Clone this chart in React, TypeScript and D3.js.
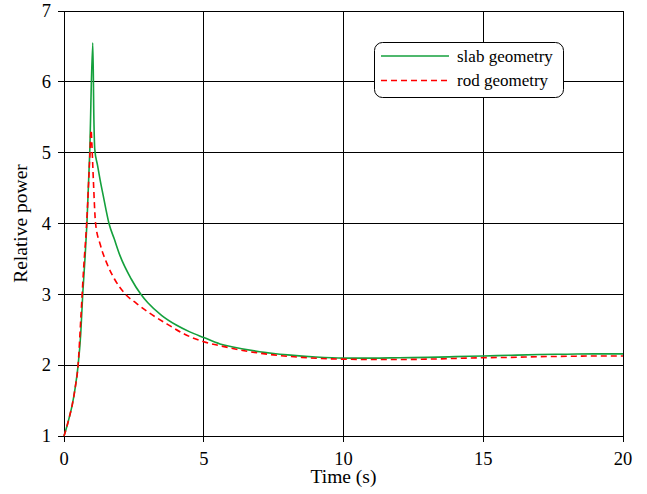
import React, { useEffect, useRef } from 'react';
import * as d3 from 'd3';

// Slab geometry (solid green)
const slabTime = [0, 0.1, 0.2, 0.3, 0.4, 0.5, 0.6, 0.67, 0.75, 0.82, 0.92, 1.03, 1.07, 1.1, 1.2, 1.29, 1.4, 1.5, 1.61, 1.8, 2.0, 2.4, 2.75, 3.0, 3.5, 4.0, 4.5, 5.0, 5.58, 6, 7, 7.5, 8, 9, 10, 11, 12, 13, 14, 15, 16, 17, 18, 19, 20];
const slabPower = [1, 1.13, 1.28, 1.45, 1.68, 1.98, 2.45, 3.0, 3.5, 4.0, 5.0, 6.55, 5.46, 5.05, 4.82, 4.62, 4.4, 4.2, 4.0, 3.78, 3.55, 3.22, 3.0, 2.88, 2.7, 2.57, 2.47, 2.39, 2.3, 2.26, 2.19, 2.165, 2.145, 2.115, 2.1, 2.1, 2.105, 2.11, 2.12, 2.13, 2.14, 2.15, 2.155, 2.16, 2.16];

// Rod geometry (dashed red)
const rodTime = [0, 0.1, 0.2, 0.3, 0.4, 0.5, 0.6, 0.7, 0.81, 0.93, 0.97, 1.0, 1.05, 1.13, 1.3, 1.53, 1.8, 2.2, 2.6, 3.08, 3.69, 4.3, 5.0, 5.58, 6.5, 7.5, 8.5, 9.5, 10, 11, 12, 13, 14, 15, 16, 17, 18, 19, 20];
const rodPower = [1, 1.13, 1.28, 1.45, 1.68, 1.98, 2.65, 3.35, 4.0, 5.0, 5.32, 5.1, 4.62, 4.0, 3.7, 3.44, 3.22, 3.0, 2.87, 2.73, 2.58, 2.44, 2.33, 2.275, 2.2, 2.145, 2.11, 2.09, 2.085, 2.08, 2.08, 2.085, 2.095, 2.105, 2.11, 2.12, 2.125, 2.13, 2.13];

const xTicks = [0, 5, 10, 15, 20];
const yTicks = [1, 2, 3, 4, 5, 6, 7];
const legendLabels = ['slab geometry', 'rod geometry'];

const App = () => {
  const svgRef = useRef<SVGSVGElement>(null);

  useEffect(() => {
    const width = 647;
    const height = 494;
    const margin = { top: 11, right: 24, bottom: 58, left: 64 };
    const font = '"Liberation Serif", "Times New Roman", serif';

    const svg = d3.select(svgRef.current).attr('width', width).attr('height', height);
    svg.selectAll('*').remove();

    const x = d3.scaleLinear().domain([0, 20]).range([margin.left, width - margin.right]);
    const y = d3.scaleLinear().domain([1, 7]).range([height - margin.bottom, margin.top]);

    // Grid + ticks
    const grid = svg.append('g').attr('stroke', '#000').attr('stroke-width', 1).attr('shape-rendering', 'crispEdges');
    grid.selectAll('.h').data(yTicks).join('line')
      .attr('x1', margin.left - 6).attr('x2', x(20))
      .attr('y1', (d) => y(d)).attr('y2', (d) => y(d));
    grid.selectAll('.v').data(xTicks).join('line')
      .attr('x1', (d) => x(d)).attr('x2', (d) => x(d))
      .attr('y1', y(7)).attr('y2', y(1) + 6);

    // Tick labels
    svg.append('g').selectAll('text').data(yTicks).join('text')
      .attr('x', margin.left - 13).attr('y', (d) => y(d)).attr('dy', '0.34em')
      .attr('text-anchor', 'end').attr('font-family', font).attr('font-size', 18.5)
      .text((d) => d);
    svg.append('g').selectAll('text').data(xTicks).join('text')
      .attr('x', (d) => x(d)).attr('y', y(1) + 29)
      .attr('text-anchor', 'middle').attr('font-family', font).attr('font-size', 18.5)
      .text((d) => d);

    // Axis titles
    svg.append('text')
      .attr('x', (x(0) + x(20)) / 2).attr('y', 483)
      .attr('text-anchor', 'middle').attr('font-family', font).attr('font-size', 19.5)
      .text('Time (s)');
    svg.append('text')
      .attr('transform', `translate(27, ${(y(1) + y(7)) / 2}) rotate(-90)`)
      .attr('text-anchor', 'middle').attr('font-family', font).attr('font-size', 19.5)
      .text('Relative power');

    const line = d3.line<[number, number]>()
      .x((d) => x(d[0])).y((d) => y(d[1]))
      .curve(d3.curveMonotoneX);
    const slab = slabTime.map((t, i) => [t, slabPower[i]] as [number, number]);
    const rod = rodTime.map((t, i) => [t, rodPower[i]] as [number, number]);

    svg.append('path').datum(slab).attr('d', line)
      .attr('fill', 'none').attr('stroke', '#14a03c').attr('stroke-width', 1.6);
    svg.append('path').datum(rod).attr('d', line)
      .attr('fill', 'none').attr('stroke', '#ff0000').attr('stroke-width', 1.6)
      .attr('stroke-dasharray', '6,4');

    // Legend
    const lg = svg.append('g');
    lg.append('rect')
      .attr('x', 374.5).attr('y', 42.5).attr('width', 189).attr('height', 55)
      .attr('rx', 8).attr('fill', '#fff').attr('stroke', '#000').attr('stroke-width', 1);
    const styles = [
      { color: '#14a03c', dash: null },
      { color: '#ff0000', dash: '6,4' },
    ];
    legendLabels.forEach((label, i) => {
      const ly = 56 + i * 24.5;
      lg.append('line')
        .attr('x1', 381).attr('x2', 449).attr('y1', ly).attr('y2', ly)
        .attr('stroke', styles[i].color).attr('stroke-width', 1.6)
        .attr('stroke-dasharray', styles[i].dash);
      lg.append('text')
        .attr('x', 457).attr('y', ly).attr('dy', '0.33em')
        .attr('font-family', font).attr('font-size', 17)
        .text(label);
    });
  }, []);

  return (
    <div style={{ position: 'absolute', left: 0, top: 0 }}>
      <svg ref={svgRef}></svg>
    </div>
  );
};

export default App;
